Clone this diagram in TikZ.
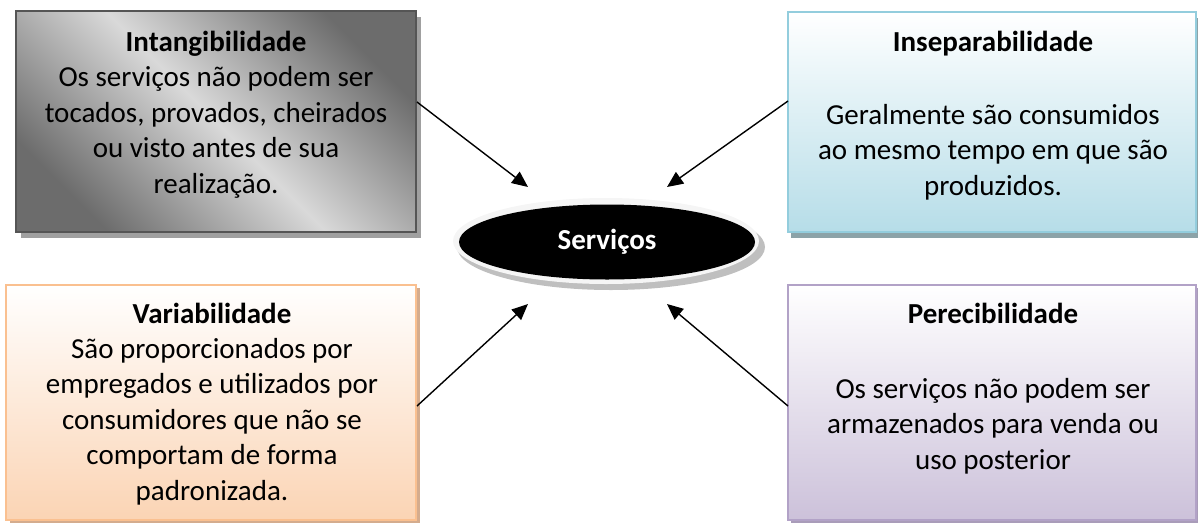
\documentclass[tikz,border=0pt]{standalone}
\usepackage{fontspec}
\setmainfont{Carlito}
\usetikzlibrary{arrows.meta,shadows,shapes.geometric}
\definecolor{g1dark}{HTML}{6C6C6C}
\definecolor{g1light}{HTML}{D9D9D9}
\definecolor{g1border}{HTML}{555555}
\definecolor{g1shadow}{HTML}{A0A0A0}
\definecolor{bluebot}{HTML}{B6DDE8}
\definecolor{blueborder}{HTML}{93CDDD}
\definecolor{blueshadow}{HTML}{8CA3A8}
\definecolor{orgbot}{HTML}{FBD4B4}
\definecolor{orgborder}{HTML}{FAC090}
\definecolor{orgshadow}{HTML}{D4AC8E}
\definecolor{purbot}{HTML}{CCC1DA}
\definecolor{purborder}{HTML}{B2A2C7}
\definecolor{purshadow}{HTML}{A99CB9}
\begin{document}
\begin{tikzpicture}[x=1pt,y=-1pt,
  box/.style={draw, line width=1.5pt, rectangle, inner sep=0pt},
  txt/.style={align=center, anchor=base, inner sep=0pt,
    font=\fontsize{29}{35.4}\selectfont},
  arr/.style={line width=1.4pt, -{Triangle[length=16pt,width=14pt]}}
]
\useasboundingbox (0,0) rectangle (1198,525);
% boxes
\node[box, draw=g1border, minimum width=400pt, minimum height=221pt,
  top color=g1dark, bottom color=g1dark, middle color=g1light, shading angle=-45,
  drop shadow={shadow xshift=5pt, shadow yshift=-6pt, fill=g1shadow, opacity=1}]
  (b1) at (216,121.5) {};
\node[box, draw=blueborder, minimum width=408pt, minimum height=220pt,
  top color=white, bottom color=bluebot,
  drop shadow={shadow xshift=3pt, shadow yshift=-6pt, fill=blueshadow, opacity=1}]
  (b2) at (992,122) {};
\node[box, draw=orgborder, minimum width=410pt, minimum height=235pt,
  top color=white, bottom color=orgbot,
  drop shadow={shadow xshift=4pt, shadow yshift=-3pt, fill=orgshadow, opacity=1}]
  (b3) at (211,402.5) {};
\node[box, draw=purborder, minimum width=408pt, minimum height=235pt,
  top color=white, bottom color=purbot,
  drop shadow={shadow xshift=3pt, shadow yshift=-3pt, fill=purshadow, opacity=1}]
  (b4) at (992,402.5) {};
% texts (anchored at the baseline of their last line)
\node[txt] (t1) at (216,193) {\textbf{Intangibilidade}\\Os serviços não podem ser\\tocados, provados, cheirados\\ou visto antes de sua\\realização.};
\node[txt] (t2) at (993,195) {\textbf{Inseparabilidade}\\[37pt]Geralmente são consumidos\\ao mesmo tempo em que são\\produzidos.};
\node[txt] (t3) at (212,500) {\textbf{Variabilidade}\\São proporcionados por\\empregados e utilizados por\\consumidores que não se\\comportam de forma\\padronizada.};
\node[txt] (t4) at (993,469) {\textbf{Perecibilidade}\\[39pt]Os serviços não podem ser\\armazenados para venda ou\\uso posterior};
% central ellipse
\fill[gray!50] (611,247) ellipse [x radius=154, y radius=43];
\fill[gray!8] (606,241) ellipse [x radius=153, y radius=43];
\node[ellipse, fill=black, minimum width=296pt, minimum height=75pt, inner sep=0pt,
  text=white, font=\fontsize{29}{35}\selectfont\bfseries] (s) at (607,242) {Serviços};
% arrows
\coordinate (a1) at (417,102);
\coordinate (e1) at (528,187);
\coordinate (a2) at (788,101);
\coordinate (e2) at (667,187);
\coordinate (a3) at (417,406);
\coordinate (e3) at (528,304);
\coordinate (a4) at (788,406);
\coordinate (e4) at (667,304);
\draw[arr] (a1) -- (e1);
\draw[arr] (a2) -- (e2);
\draw[arr] (a3) -- (e3);
\draw[arr] (a4) -- (e4);
\end{tikzpicture}
\end{document}
